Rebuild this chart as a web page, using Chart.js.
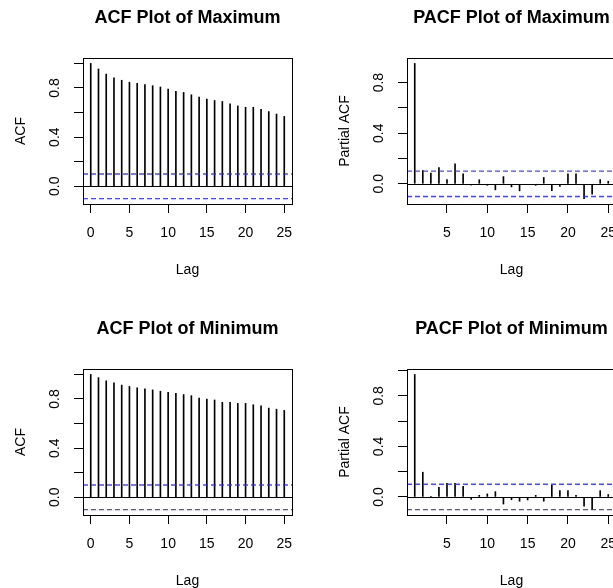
<!DOCTYPE html>
<html lang="en">
<head>
<meta charset="UTF-8">
<title>ACF and PACF Plots</title>
<script src="https://cdn.jsdelivr.net/npm/chart.js"></script>
<style>
    body {
        margin: 0;
        background: #fff;
        overflow: hidden;
    }
    .panel {
        position: absolute;
        width: 330px;
        height: 311px;
    }
</style>
</head>
<body>
<div class="panel" style="left:0;top:0"><canvas id="acfMax" width="330" height="311"></canvas></div>
<div class="panel" style="left:324px;top:0"><canvas id="pacfMax" width="330" height="311"></canvas></div>
<div class="panel" style="left:0;top:311px"><canvas id="acfMin" width="330" height="311"></canvas></div>
<div class="panel" style="left:324px;top:311px"><canvas id="pacfMin" width="330" height="311"></canvas></div>

<script>
// lags
const acfLags = [0,1,2,3,4,5,6,7,8,9,10,11,12,13,14,15,16,17,18,19,20,21,22,23,24,25];
const pacfLags = [1,2,3,4,5,6,7,8,9,10,11,12,13,14,15,16,17,18,19,20,21,22,23,24,25];

// values
const acfMax = [1.0, 0.955, 0.913, 0.882, 0.863, 0.847, 0.838, 0.827, 0.819, 0.808, 0.792, 0.773, 0.764,
                0.745, 0.726, 0.709, 0.698, 0.690, 0.671, 0.654, 0.643, 0.643, 0.627, 0.608, 0.588, 0.569];
const pacfMax = [0.952, 0.105, 0.085, 0.128, 0.033, 0.157, 0.078, -0.010, 0.032, -0.012, -0.048, 0.057, -0.025,
                 -0.056, -0.004, -0.012, 0.050, -0.055, -0.020, 0.078, 0.078, -0.117, -0.083, 0.033, 0.020];
const acfMin = [1.0, 0.974, 0.948, 0.932, 0.913, 0.902, 0.891, 0.882, 0.874, 0.863, 0.855, 0.847, 0.836,
                0.827, 0.808, 0.800, 0.792, 0.773, 0.773, 0.764, 0.764, 0.753, 0.745, 0.726, 0.717, 0.707];
const pacfMin = [0.970, 0.196, 0.002, 0.077, 0.108, 0.108, 0.085, -0.019, 0.013, 0.024, 0.042, -0.056, -0.022,
                 -0.034, -0.024, 0.013, -0.034, 0.093, 0.050, 0.050, 0.013, -0.072, -0.098, 0.050, 0.019];

const ci = 0.1;

// axis ticks
const acfXTicks = [0, 5, 10, 15, 20, 25];
const pacfXTicks = [5, 10, 15, 20, 25];
const yTicks = [0, 0.2, 0.4, 0.6, 0.8, 1.0];
const yLabelled = [0, 0.4, 0.8];

const FONT = "'Liberation Sans', Arial, sans-serif";

// box, zero line, confidence bounds and rotated y labels
const framePlugin = {
    id: 'frame',
    afterDatasetsDraw(chart) {
        const { ctx, chartArea: a, scales: { y } } = chart;
        ctx.save();
        ctx.lineWidth = 1;

        const y0 = Math.round(y.getPixelForValue(0)) + 0.5;
        ctx.strokeStyle = '#000';
        ctx.beginPath();
        ctx.moveTo(a.left, y0);
        ctx.lineTo(a.right, y0);
        ctx.stroke();

        ctx.strokeStyle = 'rgba(40,40,255,0.85)';
        ctx.lineWidth = 1.4;
        ctx.setLineDash([5, 3]);
        [ci, -ci].forEach(v => {
            const py = y.getPixelForValue(v);
            ctx.beginPath();
            ctx.moveTo(a.left, py);
            ctx.lineTo(a.right, py);
            ctx.stroke();
        });
        ctx.setLineDash([]);

        ctx.lineWidth = 1;
        ctx.strokeStyle = '#000';
        ctx.strokeRect(Math.round(a.left) + 0.5, Math.round(a.top) + 0.5,
                       Math.round(a.width), Math.round(a.height));

        ctx.fillStyle = '#000';
        ctx.font = '14px ' + FONT;
        ctx.textAlign = 'center';
        ctx.textBaseline = 'middle';
        yLabelled.forEach(v => {
            ctx.save();
            ctx.translate(a.left - 28, y.getPixelForValue(v));
            ctx.rotate(-Math.PI / 2);
            ctx.fillText(v.toFixed(1), 0, 0);
            ctx.restore();
        });
        ctx.restore();
    }
};

function makeChart(id, title, yLabel, lags, vals, xTicks, withOne) {
    // R-style limits: data range extended by 4%
    const xExt = (lags[lags.length - 1] - lags[0]) * 0.04;
    const lo = Math.min(-ci, ...vals);
    const hi = Math.max(ci, ...vals, withOne ? 1 : -Infinity);
    const yExt = (hi - lo) * 0.04;
    const yMin = lo - yExt, yMax = hi + yExt;

    new Chart(document.getElementById(id), {
        type: 'bar',
        data: {
            datasets: [{
                data: lags.map((l, i) => ({ x: l, y: vals[i] })),
                backgroundColor: '#000',
                borderWidth: 0,
                barThickness: 1
            }]
        },
        options: {
            responsive: false,
            animation: false,
            devicePixelRatio: 1,
            layout: { padding: { left: 0, right: 38, top: 0, bottom: 0 } },
            plugins: {
                legend: { display: false },
                tooltip: { enabled: false },
                title: {
                    display: true,
                    fullSize: false,
                    text: title,
                    color: '#000',
                    font: { family: FONT, size: 18, weight: 'bold' },
                    padding: { top: 7, bottom: 29.4 }
                }
            },
            scales: {
                x: {
                    type: 'linear',
                    min: lags[0] - xExt,
                    max: lags[lags.length - 1] + xExt,
                    offset: false,
                    afterBuildTicks: s => { s.ticks = xTicks.map(v => ({ value: v })); },
                    afterFit: s => { s.height = 107; },
                    grid: { drawOnChartArea: false, color: '#000', tickLength: 9, offset: false },
                    border: { display: false },
                    ticks: { color: '#000', font: { family: FONT, size: 14 }, padding: 12, maxRotation: 0 },
                    title: {
                        display: true, text: 'Lag', color: '#000',
                        font: { family: FONT, size: 14 },
                        padding: { top: 0, bottom: 32 }
                    }
                },
                y: {
                    min: yMin,
                    max: yMax,
                    afterBuildTicks: s => {
                        s.ticks = yTicks.filter(v => v <= yMax + 1e-9).map(v => ({ value: v }));
                    },
                    afterFit: s => { s.width = 83; },
                    grid: { drawOnChartArea: false, color: '#000', tickLength: 9 },
                    border: { display: false },
                    ticks: { display: false },
                    title: {
                        display: true, text: yLabel, color: '#000',
                        font: { family: FONT, size: 14 },
                        padding: { top: 13, bottom: 0 }
                    }
                }
            }
        },
        plugins: [framePlugin]
    });
}

makeChart('acfMax', 'ACF Plot of Maximum', 'ACF', acfLags, acfMax, acfXTicks, true);
makeChart('pacfMax', 'PACF Plot of Maximum', 'Partial ACF', pacfLags, pacfMax, pacfXTicks, false);
makeChart('acfMin', 'ACF Plot of Minimum', 'ACF', acfLags, acfMin, acfXTicks, true);
makeChart('pacfMin', 'PACF Plot of Minimum', 'Partial ACF', pacfLags, pacfMin, pacfXTicks, false);
</script>
</body>
</html>
